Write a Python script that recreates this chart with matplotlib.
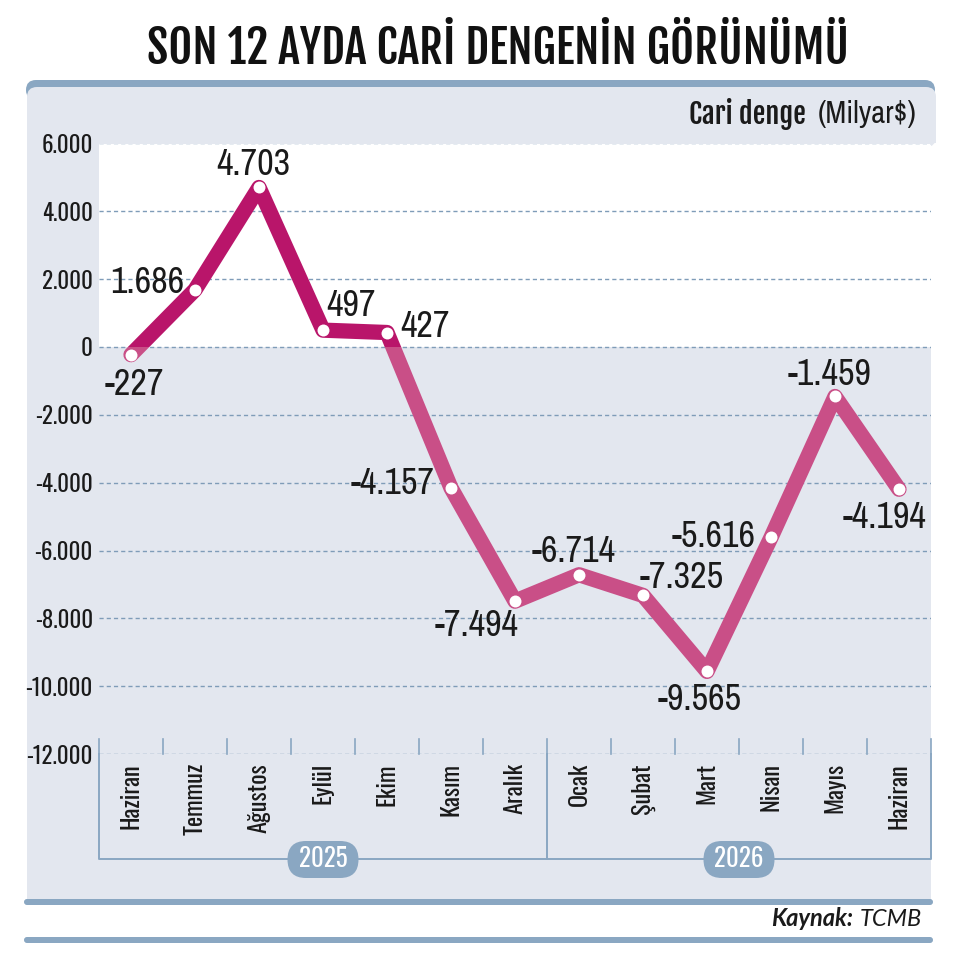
import matplotlib
matplotlib.use("Agg")
import matplotlib.pyplot as plt
from matplotlib.patches import FancyBboxPatch, Rectangle
from matplotlib.ticker import FixedLocator, FuncFormatter

months = ["Haziran", "Temmuz", "Ağustos", "Eylül", "Ekim", "Kasım", "Aralık",
          "Ocak", "Şubat", "Mart", "Nisan", "Mayıs", "Haziran"]
values = [-227, 1686, 4703, 497, 427, -4157, -7494, -6714, -7325, -9565, -5616, -1459, -4194]
labels = ["-227", "1.686", "4.703", "497", "427", "-4.157", "-7.494", "-6.714",
          "-7.325", "-9.565", "-5.616", "-1.459", "-4.194"]
# label offsets from the point, px
offs = [(3, -30), (-48, 7), (-6, 23), (28, 25), (38, 6), (-58, 4), (-38, -24), (-5, 23),
        (39, 18), (-7, -28), (-57, 1), (-5, 22), (-14, -28)]
yticks = list(range(-12000, 6001, 2000))
years = [("2025", 3.0), ("2026", 9.5)]

W, H = 969, 959
FONT = ["Oswald", "Open Sans Condensed", "DejaVu Sans"]
HEAVY = ["Fjalla One", "Oswald", "DejaVu Sans"]
NUM = ["Archivo Narrow", "Oswald", "DejaVu Sans"]
BLUE = "#8aa7c2"
PANEL = "#e3e7ef"
DARK = "#b9156a"
LIGHT = "#c94f87"
TXT = "#1a1a1a"

fig = plt.figure(figsize=(W / 100, H / 100), dpi=100, facecolor="white")
bg = fig.add_axes([0, 0, 1, 1])
bg.set_xlim(0, W); bg.set_ylim(H, 0); bg.axis("off")

# panel and rules
bg.add_patch(FancyBboxPatch((26, 80), 909, 20, boxstyle="round,pad=0,rounding_size=10", fc=BLUE, ec="none"))
bg.add_patch(FancyBboxPatch((27, 87), 909, 60, boxstyle="round,pad=0,rounding_size=10", fc=PANEL, ec="none"))
bg.add_patch(Rectangle((27, 110), 904, 792, fc=PANEL, ec="none"))
bg.add_patch(Rectangle((931, 110), 5, 33, fc=PANEL, ec="none"))
for y0 in (899, 937):
    bg.add_patch(FancyBboxPatch((24, y0), 909, 6, boxstyle="round,pad=0,rounding_size=3", fc=BLUE, ec="none"))

bg.text(498, 49, "SON 12 AYDA CARİ DENGENİN GÖRÜNÜMÜ", ha="center", va="center", family=HEAVY,
        fontsize=33.3, color="#111111")
bg.text(689, 114, "Cari denge", ha="left", va="center", family=HEAVY, fontsize=20.5, color=TXT)
bg.text(917, 114, "(Milyar$)", ha="right", va="center", family=NUM, fontsize=22, color=TXT)
bg.text(922, 919, "TCMB", ha="right", va="center", family=["Lato", "DejaVu Sans"], fontsize=17, style="italic", color=TXT)
bg.text(853, 919, "Kaynak:", ha="right", va="center", family=["Lato", "DejaVu Sans"], fontsize=17, style="italic", fontweight="bold", color=TXT)

# chart area
ax = fig.add_axes([99 / W, 1 - 754 / H, 832 / W, 610.5 / H])
ax.set_xlim(-0.5, 12.5); ax.set_ylim(-12000, 6000)
ax.patch.set_alpha(0)
for s in ax.spines.values():
    s.set_visible(False)
ax.axhspan(0, 6000, fc="white", ec="none", zorder=0)
ax.yaxis.set_major_locator(FixedLocator(yticks))
ax.yaxis.set_major_formatter(FuncFormatter(lambda v, p: f"{int(v):,}".replace(",", ".")))
ax.tick_params(axis="y", length=0, pad=4.5, labelsize=16.5, labelcolor=TXT)
for t in ax.get_yticklabels():
    t.set_family(FONT)
ax.grid(axis="y", color="#7f9cb8", lw=1, ls=(0, (3, 2.2)), zorder=1)
ax.set_xticks([])

x = list(range(len(values)))
upper, = ax.plot(x, values, color=DARK, lw=11, solid_joinstyle="round", solid_capstyle="round", zorder=3)
lower, = ax.plot(x, values, color=LIGHT, lw=11, solid_joinstyle="round", solid_capstyle="round", zorder=3)
top = Rectangle((-0.5, 0), 13, 6000, transform=ax.transData)
bot = Rectangle((-0.5, -12000), 13, 12000, transform=ax.transData)
upper.set_clip_path(top); lower.set_clip_path(bot)
ax.plot(x, values, ls="none", marker="o", ms=8.6, mfc="white", mec="none", zorder=4, clip_on=False)

for xi, yi, lab, (dx, dy) in zip(x, values, labels, offs):
    ax.annotate(lab, (xi, yi), xytext=(dx * 0.72, dy * 0.72), textcoords="offset points", ha="center", va="center",
                family=NUM, fontsize=26, color=TXT, zorder=5)

# month tick marks and labels, year brackets
for i in range(14):
    ax.plot([i - 0.5, i - 0.5], [-12000, -11560], color=BLUE, lw=1.2, clip_on=False, zorder=2)
for i, m in enumerate(months):
    ax.annotate(m, (i, -12000), xytext=(0, -6.5), textcoords="offset points", rotation=90, ha="center", va="top",
                family=FONT, fontsize=17.5, color=TXT, annotation_clip=False)

ax.plot([-0.5, -0.5, 6.5, 6.5], [-12000, -15110, -15110, -12000], color=BLUE, lw=1.4, clip_on=False, zorder=2)
ax.plot([6.5, 12.5, 12.5], [-15110, -15110, -12000], color=BLUE, lw=1.4, clip_on=False, zorder=2)
for yr, xc in years:
    cx = 131 + 64 * xc
    ax.add_patch(FancyBboxPatch((cx - 35.5, 841), 71, 37, boxstyle="round,pad=0,rounding_size=18.5", fc=BLUE, ec="none",
                                transform=bg.transData, clip_on=False, zorder=5))
    ax.text(xc, -15110, yr, ha="center", va="center", family=FONT, fontsize=18, color="white", zorder=6, clip_on=False)

fig.savefig("out.png", dpi=100, facecolor="white")
